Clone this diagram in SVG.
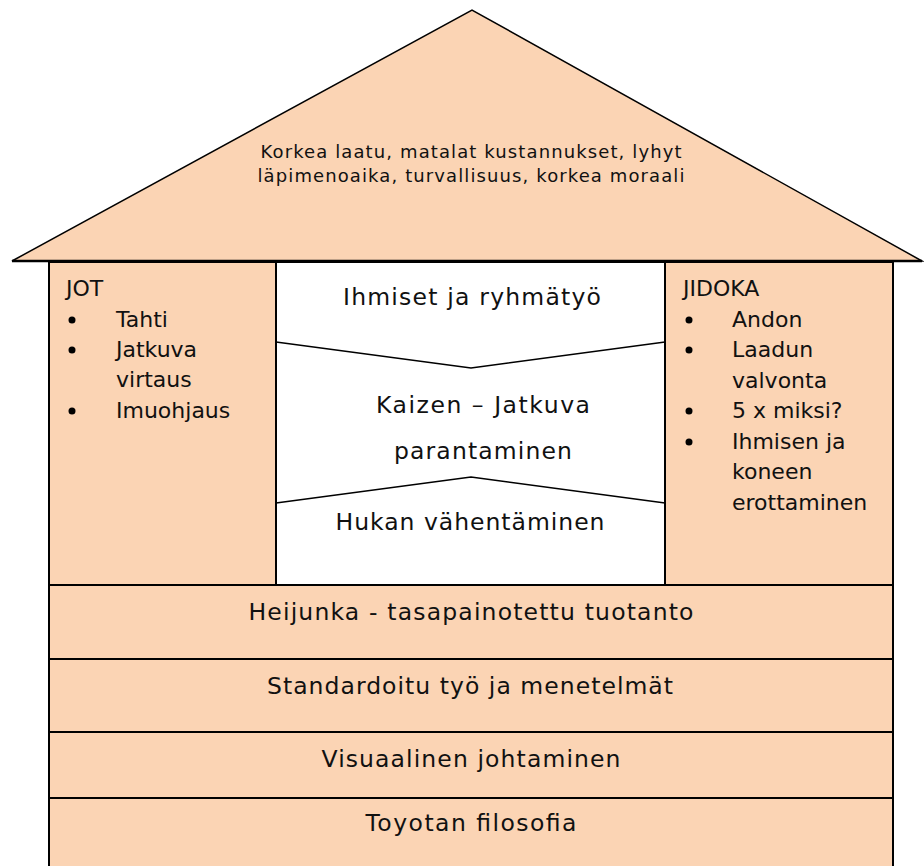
<svg xmlns="http://www.w3.org/2000/svg" width="924" height="866" viewBox="0 0 924 866">
  <style>
    .fill { fill: #FBD4B4; stroke: #000; stroke-width: 2; }
    .white { fill: #FFFFFF; stroke: #000; stroke-width: 2; }
    .div { fill: none; stroke: #000; stroke-width: 1.5; }
    text { font-family: "DejaVu Sans", Verdana, sans-serif; fill: #111; }
    .roof-t { font-size: 18px; text-anchor: middle; }
    .mid { font-size: 23.5px; text-anchor: middle; }
    .list { font-size: 22px; }
  </style>

  <!-- roof -->
  <g id="roof">
    <polygon points="12,261 472,10 922,261" fill="#FBD4B4" stroke="#000" stroke-width="1.5" stroke-linejoin="miter"/>
    <line x1="12" y1="261" x2="922" y2="261" stroke="#000" stroke-width="2.5"/>
    <text class="roof-t" x="471" y="158" textLength="421" lengthAdjust="spacing">Korkea laatu, matalat kustannukset, lyhyt</text>
    <text class="roof-t" x="471" y="182" textLength="427" lengthAdjust="spacing">läpimenoaika, turvallisuus, korkea moraali</text>
  </g>

  <!-- left pillar: JOT -->
  <g id="jot">
    <rect class="fill" x="49" y="262" width="227" height="323"/>
    <text class="list" x="66" y="296">JOT</text>
    <circle cx="72" cy="320" r="3.5" fill="#000"/>
    <text class="list" x="116" y="327">Tahti</text>
    <circle cx="72" cy="350" r="3.5" fill="#000"/>
    <text class="list" x="116" y="357">Jatkuva</text>
    <text class="list" x="116" y="387">virtaus</text>
    <circle cx="72" cy="411" r="3.5" fill="#000"/>
    <text class="list" x="116" y="418">Imuohjaus</text>
  </g>

  <!-- center column -->
  <g id="center">
    <rect class="white" x="276" y="262" width="389" height="323"/>
    <text class="mid" x="472" y="305" textLength="258" lengthAdjust="spacing">Ihmiset ja ryhmätyö</text>
    <text class="mid" x="483" y="413" textLength="214" lengthAdjust="spacing">Kaizen – Jatkuva</text>
    <text class="mid" x="483" y="459" textLength="178" lengthAdjust="spacing">parantaminen</text>
    <text class="mid" x="470" y="530" textLength="269" lengthAdjust="spacing">Hukan vähentäminen</text>
  </g>

  <!-- dividers inside the center column -->
  <g id="dividers">
    <polyline class="div" points="276,342 471,368 665,342"/>
    <polyline class="div" points="276,503 471,477 665,503"/>
  </g>

  <!-- right pillar: JIDOKA -->
  <g id="jidoka">
    <rect class="fill" x="665" y="262" width="228" height="323"/>
    <text class="list" x="683" y="296">JIDOKA</text>
    <circle cx="689" cy="320" r="3.5" fill="#000"/>
    <text class="list" x="732" y="327">Andon</text>
    <circle cx="689" cy="350" r="3.5" fill="#000"/>
    <text class="list" x="732" y="357">Laadun</text>
    <text class="list" x="732" y="388">valvonta</text>
    <circle cx="689" cy="411" r="3.5" fill="#000"/>
    <text class="list" x="732" y="418">5 x miksi?</text>
    <circle cx="689" cy="442" r="3.5" fill="#000"/>
    <text class="list" x="732" y="449">Ihmisen ja</text>
    <text class="list" x="732" y="479">koneen</text>
    <text class="list" x="732" y="510">erottaminen</text>
  </g>

  <!-- foundation layers -->
  <g id="heijunka">
    <rect class="fill" x="49" y="585" width="844" height="74"/>
    <text class="mid" x="471" y="620" textLength="445" lengthAdjust="spacing">Heijunka - tasapainotettu tuotanto</text>
  </g>
  <g id="standardoitu">
    <rect class="fill" x="49" y="659" width="844" height="73"/>
    <text class="mid" x="470" y="694" textLength="406" lengthAdjust="spacing">Standardoitu työ ja menetelmät</text>
  </g>
  <g id="visuaalinen">
    <rect class="fill" x="49" y="732" width="844" height="66"/>
    <text class="mid" x="471" y="767" textLength="299" lengthAdjust="spacing">Visuaalinen johtaminen</text>
  </g>
  <g id="filosofia">
    <rect class="fill" x="49" y="798" width="844" height="80"/>
    <text class="mid" x="471" y="831" textLength="211" lengthAdjust="spacing">Toyotan filosofia</text>
  </g>
</svg>
